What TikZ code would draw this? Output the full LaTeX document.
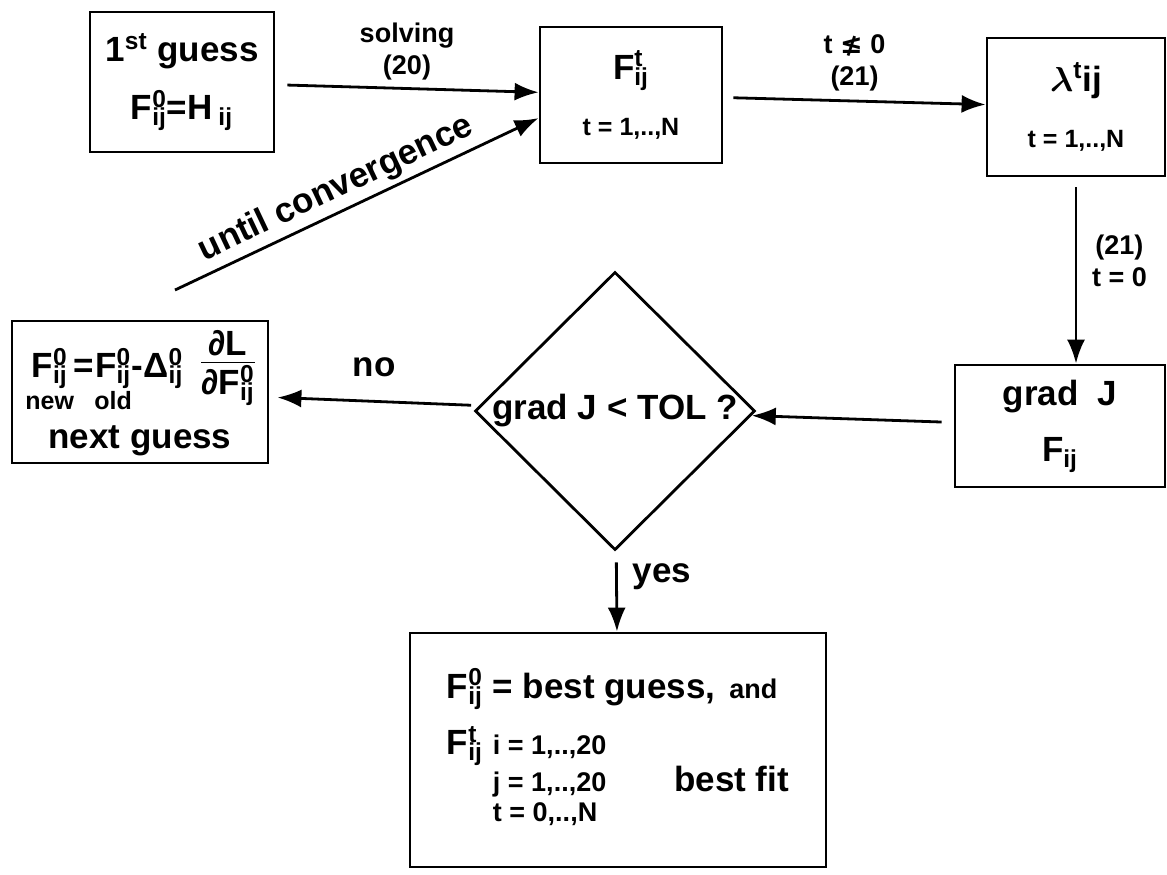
\documentclass[tikz,border=0pt]{standalone}
\usepackage{amsmath,amssymb}
\usepackage{fontspec}
\setmainfont{Liberation Sans}
\newfontfamily\symfont{DejaVu Sans}
\usetikzlibrary{positioning,arrows.meta,shapes.geometric}

% font sizes used in the chart
\newcommand{\bigsz}{\fontsize{17.5}{20}\selectfont}
\newcommand{\midsz}{\fontsize{13.5}{16}\selectfont}
\newcommand{\smsz}{\fontsize{12.5}{15}\selectfont}
% F with ij below and an index above
\newcommand{\ix}[1]{\rlap{\textsuperscript{#1}}\textsubscript{ij}}
% small word set under a symbol
\newcommand{\under}[2]{\begin{tabular}[t]{@{}c@{}}#1\\[-4pt]{\smsz #2}\end{tabular}}
% plain stacked fraction
\newcommand{\ffrac}[2]{\begin{tabular}{@{}c@{}}#1\\[-3pt]\hline\rule{0pt}{16pt}#2\end{tabular}}

\begin{document}
\begin{tikzpicture}[x=0.5pt, y=-0.5pt, font=\bfseries\bigsz,
    box/.style={draw, line width=1.4pt, align=center, inner sep=2pt},
    flow/.style={line width=1.4pt, -{Latex[length=12pt,width=9pt]}},
    lbl/.style={font=\bfseries\midsz, align=center}]
  \useasboundingbox (0,0) rectangle (1167,874);

  \node[box, minimum width=92pt, minimum height=70pt] (first) at (182,82)
    {1\textsuperscript{st} guess\\[9pt] F\ix{0}=H\,\textsubscript{ij}};
  \node[box, minimum width=91pt, minimum height=68pt] (Ft) at (631,95)
    {F\ix{t}\\[8pt] {\smsz t = 1,..,N}};
  \node[box, minimum width=89pt, minimum height=69pt] (lam) at (1076,107)
    {$\boldsymbol{\lambda}$\textsuperscript{t}ij\\[8pt] {\smsz t = 1,..,N}};
  \node[box, minimum width=105pt, minimum height=61pt] (grad) at (1060,426)
    {grad\ \ J\\[8pt] F\textsubscript{ij}};
  \node[draw, diamond, line width=1.4pt, inner sep=0pt,
        minimum width=140pt, minimum height=112pt] (test) at (615,411)
    {grad J < TOL ?};
  \node[box, minimum width=128pt, minimum height=71pt, inner sep=0pt] (next) at (140,392)
    {\under{F\ix{0}\hspace{4pt}}{new}=\under{F\ix{0}\hspace{4pt}}{old}-Δ\ix{0}\hspace{9pt}%
     \raisebox{1pt}{\ffrac{∂L}{∂F\ix{0}\hspace{3pt}}}\\[1pt]
     next guess};
  \node[box, minimum width=208pt, minimum height=117pt, font=\bfseries\midsz] (best) at (618,750)
    {\begin{tabular}{@{}l@{\hspace{5pt}}l@{\hspace{34pt}}l@{}}
       \multicolumn{3}{@{}l@{}}{\bigsz F\ix{0} = best guess,\hspace{7pt}\midsz and}\\[9pt]
       \bigsz F\ix{t} & i = 1,..,20 & \\[1pt]
       & j = 1,..,20 & \bigsz best fit\\[-1pt]
       & t = 0,..,N &
     \end{tabular}};

  \coordinate (loopstart) at (175,290);

  \draw[flow, shorten <=6pt] (first) -- node[lbl, above=0pt] {solving\\(20)} (Ft);
  \draw[flow, shorten <=5pt] (Ft) -- node[lbl, above=1pt] {t {\symfont\bfseries ≰} 0\\(21)} (lam);
  \draw[flow, shorten <=5pt] (lam) -- node[lbl, right=4pt, pos=0.45] {(21)\\t = 0} (grad.north -| lam);
  \draw[flow, shorten <=6pt] (grad) -- (test);
  \draw[flow, shorten <=4pt, shorten >=4pt] (test) -- node[above=8pt] {no} (next);
  \draw[flow, shorten <=6pt] (test) -- node[right=4pt, pos=0.33] {yes} (best);
  \draw[flow] (loopstart) -- node[sloped, above=-1pt, pos=0.47] {until convergence} (Ft.194);
\end{tikzpicture}
\end{document}
